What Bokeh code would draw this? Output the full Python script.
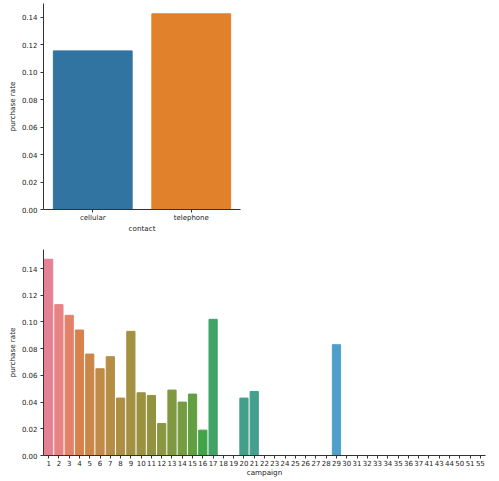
import math
import colorsys
from bokeh.plotting import figure
from bokeh.layouts import column
from bokeh.models import FactorRange, Range1d, FixedTicker, PrintfTickFormatter, ColumnDataSource
from bokeh.embed import file_html
from bokeh.resources import INLINE

# ---------------- data ----------------
contact_cats = ["cellular", "telephone"]
contact_rates = [0.1155, 0.1425]

campaign_cats = [str(i) for i in range(1, 38)] + ["41", "43", "44", "50", "51", "55"]
campaign_rates = [0.147, 0.113, 0.105, 0.094, 0.076, 0.065, 0.074, 0.043, 0.093, 0.047,
                  0.045, 0.024, 0.049, 0.040, 0.046, 0.019, 0.102, 0.0, 0.0, 0.043,
                  0.048, 0.0, 0.0, 0.0, 0.0, 0.0, 0.0, 0.0, 0.083, 0.0,
                  0.0, 0.0, 0.0, 0.0, 0.0, 0.0, 0.0, 0.0, 0.0, 0.0,
                  0.0, 0.0, 0.0]

y_ticks = [0.0, 0.02, 0.04, 0.06, 0.08, 0.10, 0.12, 0.14]

# ---------------- palette helpers (husl, as seaborn) ----------------
M = [[3.2406, -1.5372, -0.4986],
     [-0.9689, 1.8758, 0.0415],
     [0.0557, -0.2040, 1.0570]]
REF_U = 0.19784
REF_V = 0.46834
LAB_E = 0.008856
LAB_K = 903.3


def max_chroma(L, H):
    hrad = math.radians(H)
    sinH, cosH = math.sin(hrad), math.cos(hrad)
    sub1 = (L + 16) ** 3 / 1560896.0
    sub2 = sub1 if sub1 > LAB_E else L / LAB_K
    result = float("inf")
    for m1, m2, m3 in M:
        top = (0.99915 * m1 + 1.05122 * m2 + 1.14460 * m3) * sub2
        rbottom = 0.86330 * m3 - 0.17266 * m2
        lbottom = 0.12949 * m3 - 0.38848 * m1
        bottom = (rbottom * sinH + lbottom * cosH) * sub2
        for t in (0.0, 1.0):
            C = L * (top - 1.05122 * t) / (bottom + 0.17266 * sinH * t)
            if 0.0 < C < result:
                result = C
    return result


def f_inv(t):
    return t ** 3 if t ** 3 > LAB_E else (116 * t - 16) / LAB_K


def from_linear(c):
    return 12.92 * c if c <= 0.0031308 else 1.055 * c ** (1 / 2.4) - 0.055


def husl_to_rgb(H, S, L):
    C = max_chroma(L, H) / 100.0 * S
    hrad = math.radians(H)
    U, V = math.cos(hrad) * C, math.sin(hrad) * C
    varY = f_inv((L + 16) / 116.0)
    varU = U / (13.0 * L) + REF_U
    varV = V / (13.0 * L) + REF_V
    Y = varY
    X = 0.0 - (9.0 * Y * varU) / ((varU - 4.0) * varV - varU * varV)
    Z = (9.0 * Y - 15.0 * varV * Y - varV * X) / (3.0 * varV)
    rgb = [from_linear(r[0] * X + r[1] * Y + r[2] * Z) for r in M]
    return [min(max(c, 0.0), 1.0) for c in rgb]


def desat(rgb, prop=0.75):
    h, l, s = colorsys.rgb_to_hls(*rgb)
    return colorsys.hls_to_rgb(h, l, s * prop)


def to_hex(rgb):
    return "#%02x%02x%02x" % tuple(int(round(c * 255)) for c in rgb)


def husl_palette(n, h=0.01, s=0.9, l=0.65):
    out = []
    for i in range(n):
        hue = ((i / n + h) % 1) * 359
        out.append(to_hex(desat(husl_to_rgb(hue, s * 99, l * 99))))
    return out


contact_colors = ["#3274a1", "#e1812c"]
campaign_colors = husl_palette(len(campaign_cats))

FONT = "DejaVu Sans"
TXT = "#222222"


def style(p):
    p.outline_line_color = None
    p.xgrid.grid_line_color = None
    p.ygrid.grid_line_color = None
    p.background_fill_color = "white"
    p.border_fill_color = "white"
    for ax in (p.xaxis[0], p.yaxis[0]):
        ax.axis_line_color = "#333333"
        ax.major_tick_line_color = "#333333"
        ax.major_tick_out = 3
        ax.major_tick_in = 0
        ax.minor_tick_line_color = None
        ax.major_label_text_font = FONT
        ax.major_label_text_font_size = "7px"
        ax.major_label_text_color = TXT
        ax.axis_label_text_font = FONT
        ax.axis_label_text_font_size = "7.2px"
        ax.axis_label_text_font_style = "normal"
        ax.axis_label_text_color = TXT
    p.xaxis[0].major_label_standoff = 1
    p.xaxis[0].axis_label_standoff = -1
    p.yaxis[0].major_label_standoff = 3
    p.yaxis[0].axis_label_standoff = 2
    p.yaxis[0].ticker = FixedTicker(ticks=y_ticks)
    p.yaxis[0].formatter = PrintfTickFormatter(format="%.2f")
    p.yaxis[0].axis_label = "purchase rate"


# ---------------- top chart ----------------
src1 = ColumnDataSource(dict(x=contact_cats, top=contact_rates, color=contact_colors))
p1 = figure(x_range=FactorRange(*contact_cats), y_range=Range1d(0, 0.15),
            frame_width=197, frame_height=206, output_backend="svg", toolbar_location=None,
            min_border_left=43, min_border_right=5, min_border_top=3, min_border_bottom=30)
p1.vbar(x="x", top="top", width=0.8, color="color", source=src1)
style(p1)
p1.xaxis[0].axis_label = "contact"

# ---------------- bottom chart ----------------
src2 = ColumnDataSource(dict(x=campaign_cats, top=campaign_rates, color=campaign_colors))
p2 = figure(x_range=FactorRange(*campaign_cats), y_range=Range1d(0, 0.1543),
            frame_width=442, frame_height=206, output_backend="svg", toolbar_location=None,
            min_border_left=43, min_border_right=6, min_border_top=10, min_border_bottom=24)
p2.vbar(x="x", top="top", width=0.8, color="color", source=src2)
style(p2)
p2.xaxis[0].axis_label = "campaign"

layout = column(p1, p2, spacing=0)
open("out.html", "w").write(file_html(layout, INLINE))
